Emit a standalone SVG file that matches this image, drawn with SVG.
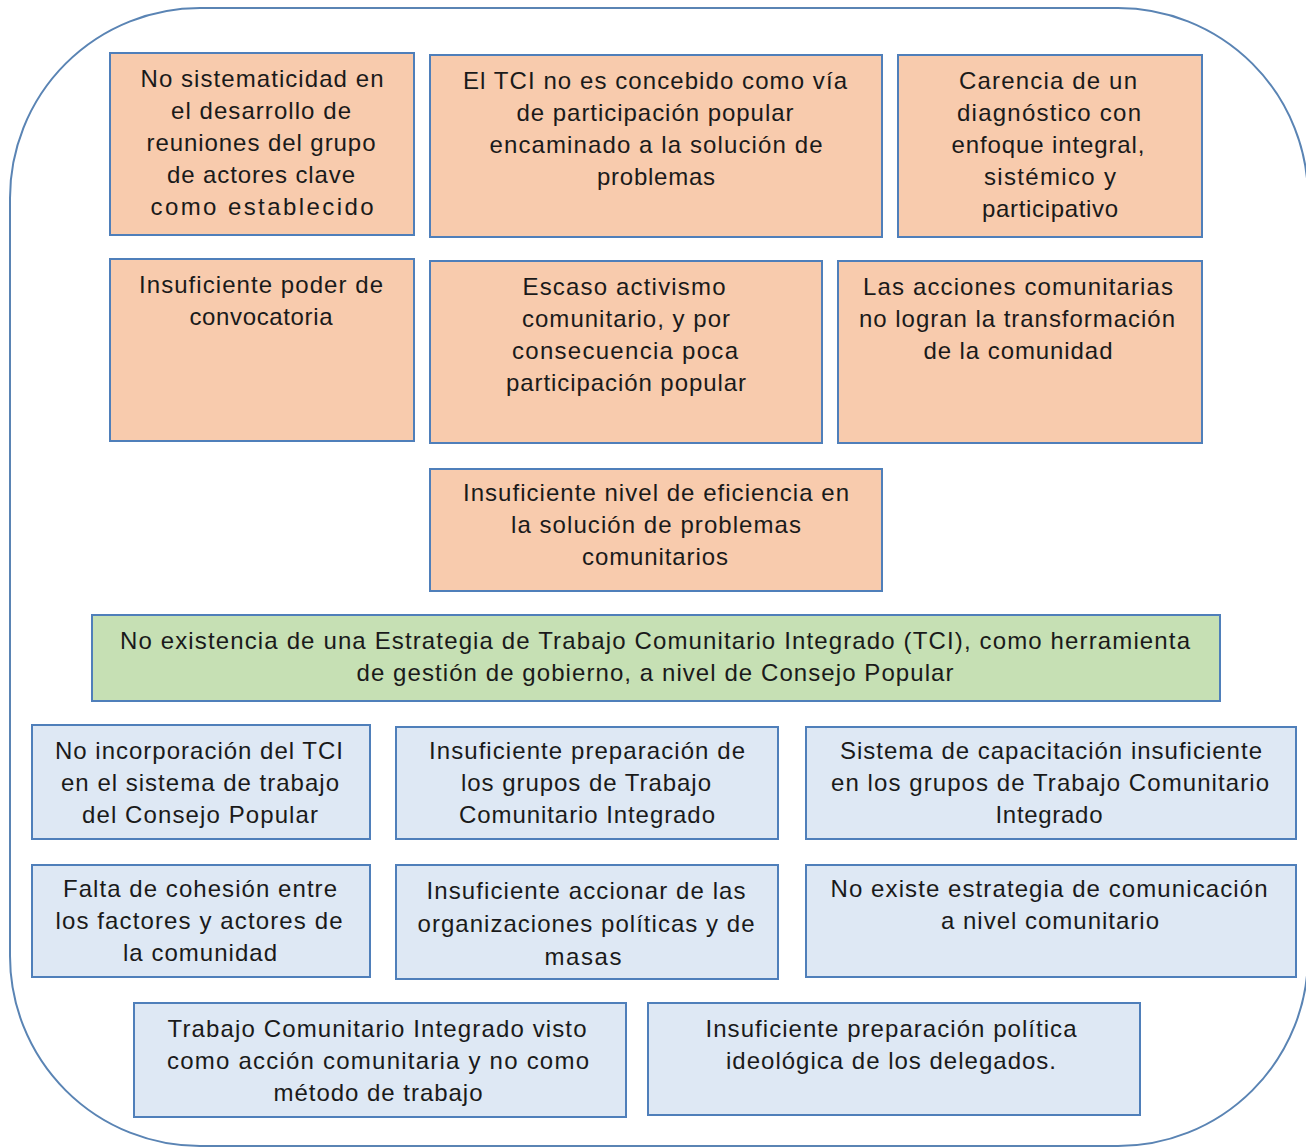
<svg xmlns="http://www.w3.org/2000/svg" width="1306" height="1148" viewBox="0 0 1306 1148">
<style>
.o{fill:#f8cbad;stroke:#4f7fba;stroke-width:2}
.g{fill:#c6e0b4;stroke:#4f7fba;stroke-width:2}
.b{fill:#dee8f4;stroke:#4f7fba;stroke-width:2}
text{font-family:"Liberation Sans",Arial,sans-serif;font-size:24px;fill:#1a1a1a;text-anchor:middle}
</style>
<rect width="1306" height="1148" fill="#ffffff"/>
<rect id="frame" x="10" y="8" width="1298" height="1138" rx="190" ry="190" fill="none" stroke="#5a84b4" stroke-width="2"/>
<g id="connectors"></g>
<g id="n1"><rect class="o" x="110" y="53" width="304" height="182"/>
<text x="262" y="87" textLength="243">No sistematicidad en</text><text x="261" y="119" textLength="180">el desarrollo de</text><text x="261" y="151" textLength="229">reuniones del grupo</text><text x="261" y="183" textLength="188">de actores clave</text><text x="262" y="215" textLength="223">como establecido</text></g>
<g id="n2"><rect class="o" x="430" y="55" width="452" height="182"/>
<text x="655" y="89" textLength="384">El TCI no es concebido como vía</text><text x="655" y="121" textLength="277">de participación popular</text><text x="656" y="153" textLength="333">encaminado a la solución de</text><text x="656" y="185" textLength="118">problemas</text></g>
<g id="n3"><rect class="o" x="898" y="55" width="304" height="182"/>
<text x="1048" y="89" textLength="178">Carencia de un</text><text x="1049" y="121" textLength="184">diagnóstico con</text><text x="1048" y="153" textLength="193">enfoque integral,</text><text x="1050" y="185" textLength="132">sistémico y</text><text x="1050" y="217" textLength="136">participativo</text></g>
<g id="n4"><rect class="o" x="110" y="259" width="304" height="182"/>
<text x="261" y="293" textLength="244">Insuficiente poder de</text><text x="261" y="325" textLength="143">convocatoria</text></g>
<g id="n5"><rect class="o" x="430" y="261" width="392" height="182"/>
<text x="624" y="295" textLength="203">Escaso activismo</text><text x="626" y="327" textLength="208">comunitario, y por</text><text x="625" y="359" textLength="226">consecuencia poca</text><text x="626" y="391" textLength="240">participación popular</text></g>
<g id="n6"><rect class="o" x="838" y="261" width="364" height="182"/>
<text x="1018" y="295" textLength="310">Las acciones comunitarias</text><text x="1017" y="327" textLength="316">no logran la transformación</text><text x="1018" y="359" textLength="189">de la comunidad</text></g>
<g id="n7"><rect class="o" x="430" y="469" width="452" height="122"/>
<text x="656" y="501" textLength="386">Insuficiente nivel de eficiencia en</text><text x="656" y="533" textLength="290">la solución de problemas</text><text x="655" y="565" textLength="146">comunitarios</text></g>
<g id="n8"><rect class="g" x="92" y="615" width="1128" height="86"/>
<text x="655" y="649" textLength="1070">No existencia de una Estrategia de Trabajo Comunitario Integrado (TCI), como herramienta</text><text x="655" y="681" textLength="597">de gestión de gobierno, a nivel de Consejo Popular</text></g>
<g id="n9"><rect class="b" x="32" y="725" width="338" height="114"/>
<text x="199" y="759" textLength="288">No incorporación del TCI</text><text x="200" y="791" textLength="278">en el sistema de trabajo</text><text x="200" y="823" textLength="236">del Consejo Popular</text></g>
<g id="n10"><rect class="b" x="396" y="727" width="382" height="112"/>
<text x="587" y="759" textLength="316">Insuficiente preparación de</text><text x="586" y="791" textLength="250">los grupos de Trabajo</text><text x="587" y="823" textLength="256">Comunitario Integrado</text></g>
<g id="n11"><rect class="b" x="806" y="727" width="490" height="112"/>
<text x="1051" y="759" textLength="422">Sistema de capacitación insuficiente</text><text x="1050" y="791" textLength="438">en los grupos de Trabajo Comunitario</text><text x="1049" y="823" textLength="107">Integrado</text></g>
<g id="n12"><rect class="b" x="32" y="865" width="338" height="112"/>
<text x="200" y="897" textLength="274">Falta de cohesión entre</text><text x="199" y="929" textLength="287">los factores y actores de</text><text x="200" y="961" textLength="154">la comunidad</text></g>
<g id="n13"><rect class="b" x="396" y="865" width="382" height="114"/>
<text x="586" y="899" textLength="319">Insuficiente accionar de las</text><text x="586" y="932" textLength="337">organizaciones políticas y de</text><text x="583" y="965" textLength="77">masas</text></g>
<g id="n14"><rect class="b" x="806" y="865" width="490" height="112"/>
<text x="1049" y="897" textLength="437">No existe estrategia de comunicación</text><text x="1050" y="929" textLength="218">a nivel comunitario</text></g>
<g id="n15"><rect class="b" x="134" y="1003" width="492" height="114"/>
<text x="377" y="1037" textLength="419">Trabajo Comunitario Integrado visto</text><text x="378" y="1069" textLength="422">como acción comunitaria y no como</text><text x="378" y="1101" textLength="209">método de trabajo</text></g>
<g id="n16"><rect class="b" x="648" y="1003" width="492" height="112"/>
<text x="891" y="1037" textLength="371">Insuficiente preparación política</text><text x="891" y="1069" textLength="330">ideológica de los delegados.</text></g>
</svg>
